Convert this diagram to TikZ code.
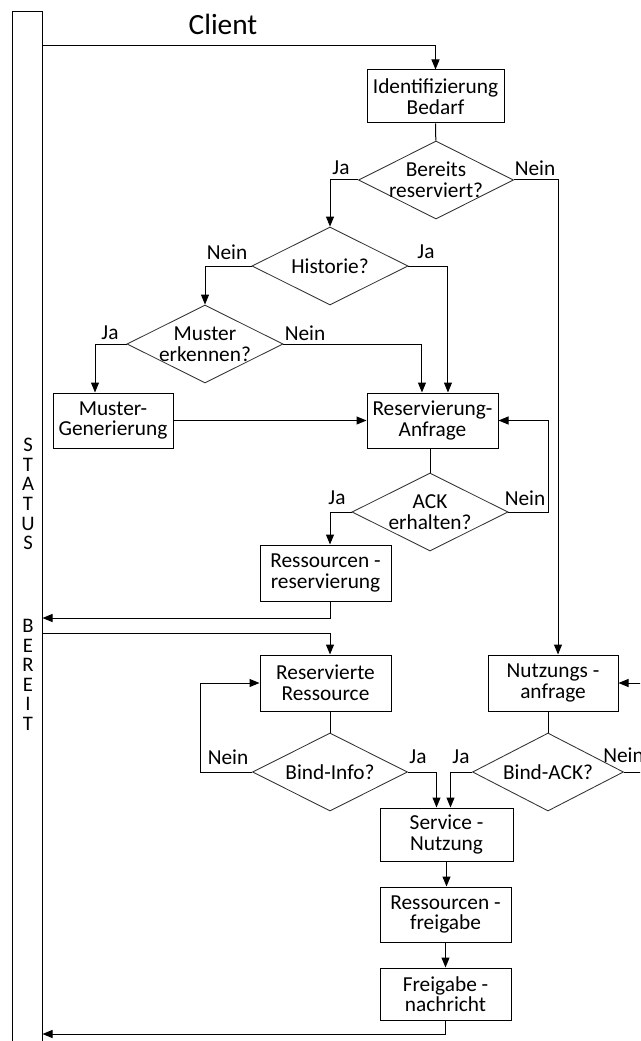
\documentclass[tikz,border=0pt]{standalone}
\usepackage{fontspec}
\setmainfont{Carlito}
\usetikzlibrary{arrows.meta,shapes.geometric,calc}

\begin{document}
\begin{tikzpicture}[x=0.75pt,y=-0.75pt,
  every node/.style={font=\fontsize{16}{15.5}\selectfont},
  sz/.style 2 args={minimum width=#1*0.75pt,minimum height=#2*0.75pt},
  proc/.style={draw,line width=0.75pt,align=center,inner sep=0pt},
  dia/.style={draw=black!80,diamond,line width=0.65pt,inner sep=0pt},
  dtext/.style={align=center,inner sep=0pt},
  lbl/.style={inner sep=0pt},
  flow/.style={line width=0.75pt},
  arr/.style={flow,-{Triangle[length=7.5pt,width=6pt]}},
  letters/.style={align=center,inner sep=0pt}
]
\clip (0,0) rectangle (640,1041);

% status column
\draw[line width=0.75pt] (12.5,1050) -- (12.5,12) -- (42.5,12) -- (42.5,1050);
\node[letters,font=\fontsize{15.5}{14.7}\selectfont] (status) at (28,494) {S\\T\\A\\T\\U\\S};
\node[letters,font=\fontsize{15.5}{14.6}\selectfont] (bereit) at (28,675) {B\\E\\R\\E\\I\\T};

\node[font=\fontsize{22}{24}\selectfont] (client) at (223,24) {Client};

% process steps
\node[proc,sz={137}{53}] (ident) at (435.5,96.5) {Identifizierung\\Bedarf};
\node[dia,sz={155}{78},label={[dtext]center:Bereits\\reserviert?}] (bereits) at (436,180) {};
\node[dia,sz={156}{78},label={[dtext]center:Historie?}] (historie) at (330,266) {};
\node[dia,sz={156}{78},label={[dtext]center:Muster\\erkennen?}] (muster) at (205,344) {};
\node[proc,sz={120}{55}] (mgen) at (113,420.5) {Muster-\\Generierung};
\node[proc,sz={131}{55}] (resanf) at (432.5,420.5) {Reservierung-\\Anfrage};
\node[dia,sz={156}{78},label={[dtext]center:ACK\\erhalten?}] (ack) at (430,512) {};
\node[proc,sz={131}{56}] (resres) at (325.5,573) {Ressourcen -\\reservierung};
\node[proc,sz={131}{56}] (resvres) at (325.5,683) {Reservierte\\Ressource};
\node[proc,sz={130}{56}] (nutz) at (553,683) {Nutzungs -\\anfrage};
\node[dia,sz={155}{78},label={[dtext]center:Bind-Info?}] (bindinfo) at (330,772) {};
\node[dia,sz={151}{78},label={[dtext]center:Bind-ACK?}] (bindack) at (548,772) {};
\node[proc,sz={133}{53}] (service) at (446.5,834.5) {Service -\\Nutzung};
\node[proc,sz={131}{55}] (freig) at (445.5,914.5) {Ressourcen -\\freigabe};
\node[proc,sz={131}{52}] (fnach) at (445.5,994) {Freigabe -\\nachricht};

% branch labels
\node[lbl] (l1) at (341,168) {Ja};
\node[lbl] (l2) at (535,168) {Nein};
\node[lbl] (l3) at (227,252) {Nein};
\node[lbl] (l4) at (426,252) {Ja};
\node[lbl] (l5) at (110,333) {Ja};
\node[lbl] (l6) at (305,333) {Nein};
\node[lbl] (l7) at (337,498) {Ja};
\node[lbl] (l8) at (525,498) {Nein};
\node[lbl] (l9) at (228,757) {Nein};
\node[lbl] (l10) at (418,757) {Ja};
\node[lbl] (l11) at (461,757) {Ja};
\node[lbl,anchor=west] (l12) at (603,755) {Nein};

% connection points on the status column and loop rails
\coordinate (s0) at (42.5,46);
\coordinate (s1) at (42.5,618);
\coordinate (s2) at (42.5,633);
\coordinate (s3) at (42.5,1034);
\coordinate (ackrail) at (548,0);
\coordinate (bindrail) at (200,0);
\coordinate (nutzrail) at (652,0);

% connectors
\draw[arr] (s0) -| (ident.north);
\draw[flow] (ident) -- (bereits);
\draw[arr] (bereits.west) -| (historie.north);
\draw[arr] (bereits.east) -| ([xshift=3.75pt]nutz.north);
\draw[arr] (historie.west) -| (muster.north);
\draw[arr] (historie.east) -| ([xshift=11.6pt]resanf.north);
\draw[arr] (muster.west) -| ([xshift=-13.5pt]mgen.north);
\draw[arr] (muster.east) -| ([xshift=-7.9pt]resanf.north);
\draw[arr] (mgen.east) -- (resanf.west);
\draw[flow] (resanf.south -| ack.north) -- (ack.north);
\draw[arr] (ack.east) -| (ackrail |- resanf.east) -- (resanf.east);
\draw[arr] (ack.west) -| (resres.north -| bindinfo.north);
\draw[arr] (resres.south -| bindinfo.north) |- (s1);
\draw[arr] (s2) -| (resvres.north -| bindinfo.north);
\draw[flow] (resvres.south -| bindinfo.north) -- (bindinfo.north);
\draw[arr] (bindinfo.west) -| (bindrail |- resvres.west) -- (resvres.west);
\draw[arr] (bindinfo.east) -| ([xshift=-7.5pt]service.north);
\draw[flow] (nutz.south -| bindack.north) -- (bindack.north);
\draw[arr] (bindack.west) -| ([xshift=3pt]service.north);
\draw[arr] (bindack.east) -| (nutzrail |- nutz.east) -- (nutz.east);
\draw[arr] (service.south) -- (service.south |- freig.north);
\draw[arr] (freig.south) -- (freig.south |- fnach.north);
\draw[arr] (fnach.south) |- (s3);
\end{tikzpicture}
\end{document}
